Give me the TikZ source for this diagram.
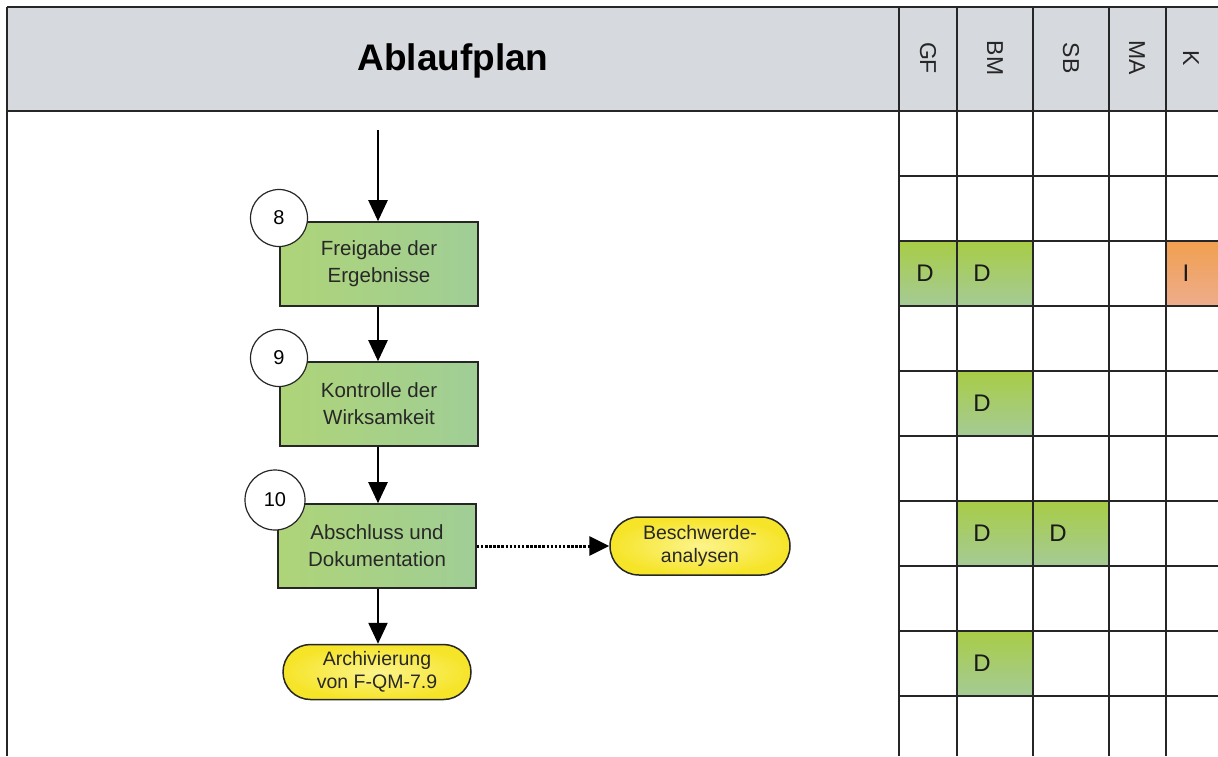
\documentclass[tikz,border=0pt]{standalone}
\usepackage{fontspec}
\setmainfont{Liberation Sans}
\usetikzlibrary{arrows.meta,shapes.misc}
\definecolor{headgray}{RGB}{214,217,222}
\definecolor{greentop}{RGB}{168,204,70}
\definecolor{greenbot}{RGB}{165,203,150}
\definecolor{boxgreenA}{RGB}{174,212,120}
\definecolor{boxgreenB}{RGB}{160,206,150}
\definecolor{ovalin}{RGB}{252,244,140}
\definecolor{ovalout}{RGB}{246,228,40}
\definecolor{orangetop}{RGB}{240,160,80}
\definecolor{orangebot}{RGB}{238,172,140}
\definecolor{txt}{RGB}{40,40,40}
\begin{document}
\begin{tikzpicture}[x=1pt,y=-1pt,
  gridline/.style={line width=1.4pt,black!85},
  stepbox/.style={draw=black!85,line width=1.6pt,left color=boxgreenA,right color=boxgreenB,
     minimum width=198pt,minimum height=84pt,align=center,font=\fontsize{20.5}{27}\selectfont,text=txt},
  numcircle/.style={circle,draw=black!85,line width=1.2pt,fill=white,minimum size=57pt,inner sep=0pt,
     font=\fontsize{20}{22}\selectfont},
  terminal/.style={rounded rectangle,draw=black!85,line width=1.5pt,inner color=ovalin,outer color=ovalout,
     align=center,font=\fontsize{19.5}{23}\selectfont,text=txt,inner sep=0pt},
  flow/.style={line width=2.4pt,black,-{Triangle[width=19pt,length=21pt]}},
  dflow/.style={line width=3pt,black,dash pattern=on 2.5pt off 1.6pt,-{Triangle[width=19pt,length=20pt]}},
  colhead/.style={rotate=-90,font=\fontsize{23}{23}\selectfont,text=black!85},
  cellmark/.style={font=\fontsize{24}{24}\selectfont,text=black!90}
]
\useasboundingbox (0,0) rectangle (1218,756);
\fill[white] (0,0) rectangle (1218,756);
% header band
\fill[headgray] (7,7) rectangle (1218,111);
% coloured cells
\shade[top color=greentop,bottom color=greenbot] (899,241) rectangle (957,306);
\shade[top color=greentop,bottom color=greenbot] (957,241) rectangle (1033,306);
\shade[top color=orangetop,bottom color=orangebot] (1166,241) rectangle (1218,306);
\shade[top color=greentop,bottom color=greenbot] (957,371) rectangle (1033,436);
\shade[top color=greentop,bottom color=greenbot] (957,501) rectangle (1033,566);
\shade[top color=greentop,bottom color=greenbot] (1033,501) rectangle (1109,566);
\shade[top color=greentop,bottom color=greenbot] (957,631) rectangle (1033,696);
% grid
\draw[gridline] (7,7) -- (1218,7);
\draw[gridline] (7,111) -- (1218,111);
\draw[gridline] (7,7) -- (7,756);
\foreach \x in {899,957,1033,1109,1166} \draw[gridline] (\x,7) -- (\x,756);
\foreach \y in {176,241,306,371,436,501,566,631,696} \draw[gridline] (899,\y) -- (1218,\y);
% title and column heads
\node[font=\bfseries\fontsize{37}{37}\selectfont] (title) at (453,61) {Ablaufplan};
\node[colhead] (hGF) at (928,58) {GF};
\node[colhead] (hBM) at (995,58) {BM};
\node[colhead] (hSB) at (1071,58) {SB};
\node[colhead] (hMA) at (1137,58) {MA};
\node[colhead] (hK) at (1191,58) {K};
% cell entries
\node[cellmark] (c1) at (925,273) {D};
\node[cellmark] (c2) at (982,273) {D};
\node[cellmark] (c3) at (1186,273) {I};
\node[cellmark] (c4) at (982,403) {D};
\node[cellmark] (c5) at (982,533) {D};
\node[cellmark] (c6) at (1058,533) {D};
\node[cellmark] (c7) at (982,663) {D};
% flowchart
\coordinate (start) at (378,130);
\node[stepbox] (s8) at (379,264) {Freigabe der\\Ergebnisse};
\node[stepbox] (s9) at (379,404) {Kontrolle der\\Wirksamkeit};
\node[stepbox] (s10) at (377,546) {Abschluss und\\Dokumentation};
\node[terminal,minimum width=180pt,minimum height=58pt] (t1) at (700,546) {Beschwerde-\\analysen};
\node[terminal,minimum width=188pt,minimum height=55pt] (t2) at (377,672) {Archivierung\\von F-QM-7.9};
\node[numcircle] (n8) at (279,218) {8};
\node[numcircle] (n9) at (279,358) {9};
\node[numcircle,minimum size=60pt] (n10) at (275,500) {10};
\draw[flow] (start) -- (s8.north -| start);
\draw[flow] (s8.south -| start) -- (s9.north -| start);
\draw[flow] (s9.south -| start) -- (s10.north -| start);
\draw[flow] (s10.south -| start) -- (t2.north -| start);
\draw[dflow] (s10.east) -- (t1.west);
\end{tikzpicture}
\end{document}
